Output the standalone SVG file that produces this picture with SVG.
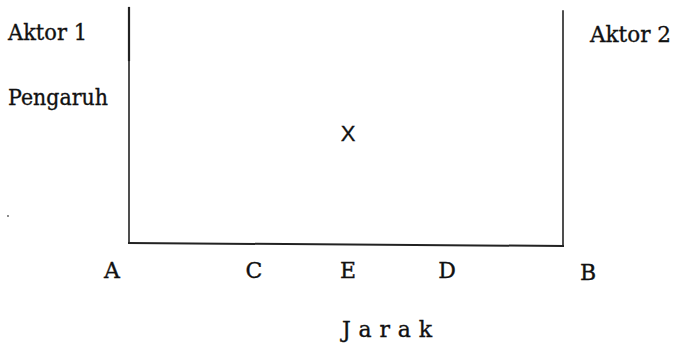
<svg xmlns="http://www.w3.org/2000/svg" width="673" height="351" viewBox="0 0 673 351">
<style>
.t{font-family:"DejaVu Serif","Liberation Serif",serif;font-size:22px;fill:#111;stroke:#111;stroke-width:0.35}
.ax{stroke:#222;fill:none;stroke-linecap:square}
</style>
<rect width="673" height="351" fill="#fff"/>
<g id="axes">
<line class="ax" x1="129" y1="8" x2="129" y2="243" stroke-width="1.6"/>
<line class="ax" x1="129" y1="8" x2="129" y2="60" stroke-width="2.2"/>
<line class="ax" x1="129" y1="243" x2="563" y2="246" stroke-width="2"/>
<line class="ax" x1="563" y1="11" x2="563" y2="246" stroke-width="1.6"/>
</g>
<g id="labels">
<text class="t" x="8" y="40" textLength="79" lengthAdjust="spacingAndGlyphs">Aktor 1</text>
<text class="t" x="590" y="42" textLength="81" lengthAdjust="spacingAndGlyphs">Aktor 2</text>
<text class="t" x="8" y="105" textLength="100" lengthAdjust="spacingAndGlyphs">Pengaruh</text>
<text class="t" x="348" y="141" text-anchor="middle" style="font-family:'Liberation Sans',sans-serif;font-size:22px">X</text>
<text class="t" x="112" y="278" text-anchor="middle">A</text>
<text class="t" x="254" y="278" text-anchor="middle">C</text>
<text class="t" x="348" y="278" text-anchor="middle">E</text>
<text class="t" x="447" y="278" text-anchor="middle">D</text>
<text class="t" x="588" y="280" text-anchor="middle">B</text>
<text class="t" x="342" y="337" textLength="90" lengthAdjust="spacing">Jarak</text>
</g>
<circle cx="8" cy="216" r="0.9" fill="#555"/>
</svg>
